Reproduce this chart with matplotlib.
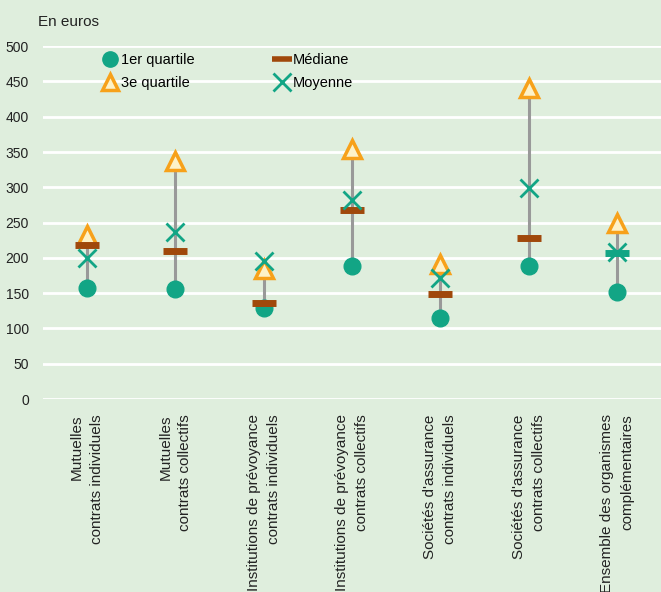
import numpy as np
import matplotlib.pyplot as plt
from matplotlib.lines import Line2D

plt.rcParams['font.family'] = ['Liberation Sans', 'DejaVu Sans']

categories = [
    "Mutuelles\ncontrats individuels",
    "Mutuelles\ncontrats collectifs",
    "Institutions de prévoyance\ncontrats individuels",
    "Institutions de prévoyance\ncontrats collectifs",
    "Sociétés d'assurance\ncontrats individuels",
    "Sociétés d'assurance\ncontrats collectifs",
    "Ensemble des organismes\ncomplémentaires",
]
q1 = [157, 156, 129, 188, 115, 188, 151]
mediane = [218, 210, 136, 268, 149, 228, 207]
q3 = [233, 337, 184, 354, 192, 441, 249]
moyenne = [200, 236, 196, 282, 172, 299, 208]

bg = '#dfeedd'
teal = '#12a585'
orange = '#f7a11a'
brown = '#a0480b'
med_colors = [brown] * 6 + [teal]

fig = plt.figure(figsize=(6.61, 5.92), dpi=100, facecolor=bg)
ax = fig.add_axes([0.065, 0.326, 0.935, 0.596])
ax.set_facecolor(bg)

x = np.arange(len(categories))
lo = np.minimum.reduce([q1, mediane, q3, moyenne])
hi = np.maximum.reduce([q1, mediane, q3, moyenne])
ax.vlines(x, lo, hi, color='#999999', lw=2.2, zorder=2)

ax.plot(x, q1, 'o', ms=12, color=teal, mec=teal, zorder=3)
ax.plot(x, q3, '^', ms=13, mfc='#fdf2c8', mec=orange, mew=2.5, zorder=4)
for xi, m, c in zip(x, mediane, med_colors):
    ax.plot(xi, m, '_', ms=17, mew=5, color=c, zorder=5)
ax.plot(x, moyenne, 'x', ms=13, mew=2, color=teal, zorder=6)

ax.set_ylim(0, 500)
ax.set_xlim(-0.5, 6.5)
ax.set_yticks(np.arange(0, 501, 50))
ax.yaxis.grid(True, color='white', lw=2)
ax.set_axisbelow(True)
for s in ax.spines.values():
    s.set_visible(False)
ax.tick_params(axis='both', length=0, colors='#222222')
ax.tick_params(axis='y', labelsize=10, pad=10)
ax.set_xticks(x)
ax.set_xticklabels(categories, rotation=90, fontsize=11, va='top', ha='center',
                   multialignment='right', linespacing=1.55)
ax.tick_params(axis='x', pad=11)

fig.text(0.057, 0.962, 'En euros', fontsize=11, color='#222222', va='center')

handles = [
    Line2D([], [], marker='o', ls='none', ms=11, color=teal),
    Line2D([], [], marker='^', ls='none', ms=12, mfc='#fdf2c8', mec=orange, mew=2.5),
    Line2D([], [], marker='_', ls='none', ms=15, mew=4, color=brown),
    Line2D([], [], marker='x', ls='none', ms=13, mew=2, color=teal),
]
labels = ['1er quartile', '3e quartile', 'Médiane', 'Moyenne']
ax.legend(handles, labels, ncol=2, frameon=False, fontsize=10.5,
          loc='upper left', bbox_to_anchor=(0.069, 1.018), handletextpad=0.0,
          columnspacing=5.25, labelspacing=0.65, handlelength=1.5)

fig.savefig('out.png', dpi=100, facecolor=bg)
